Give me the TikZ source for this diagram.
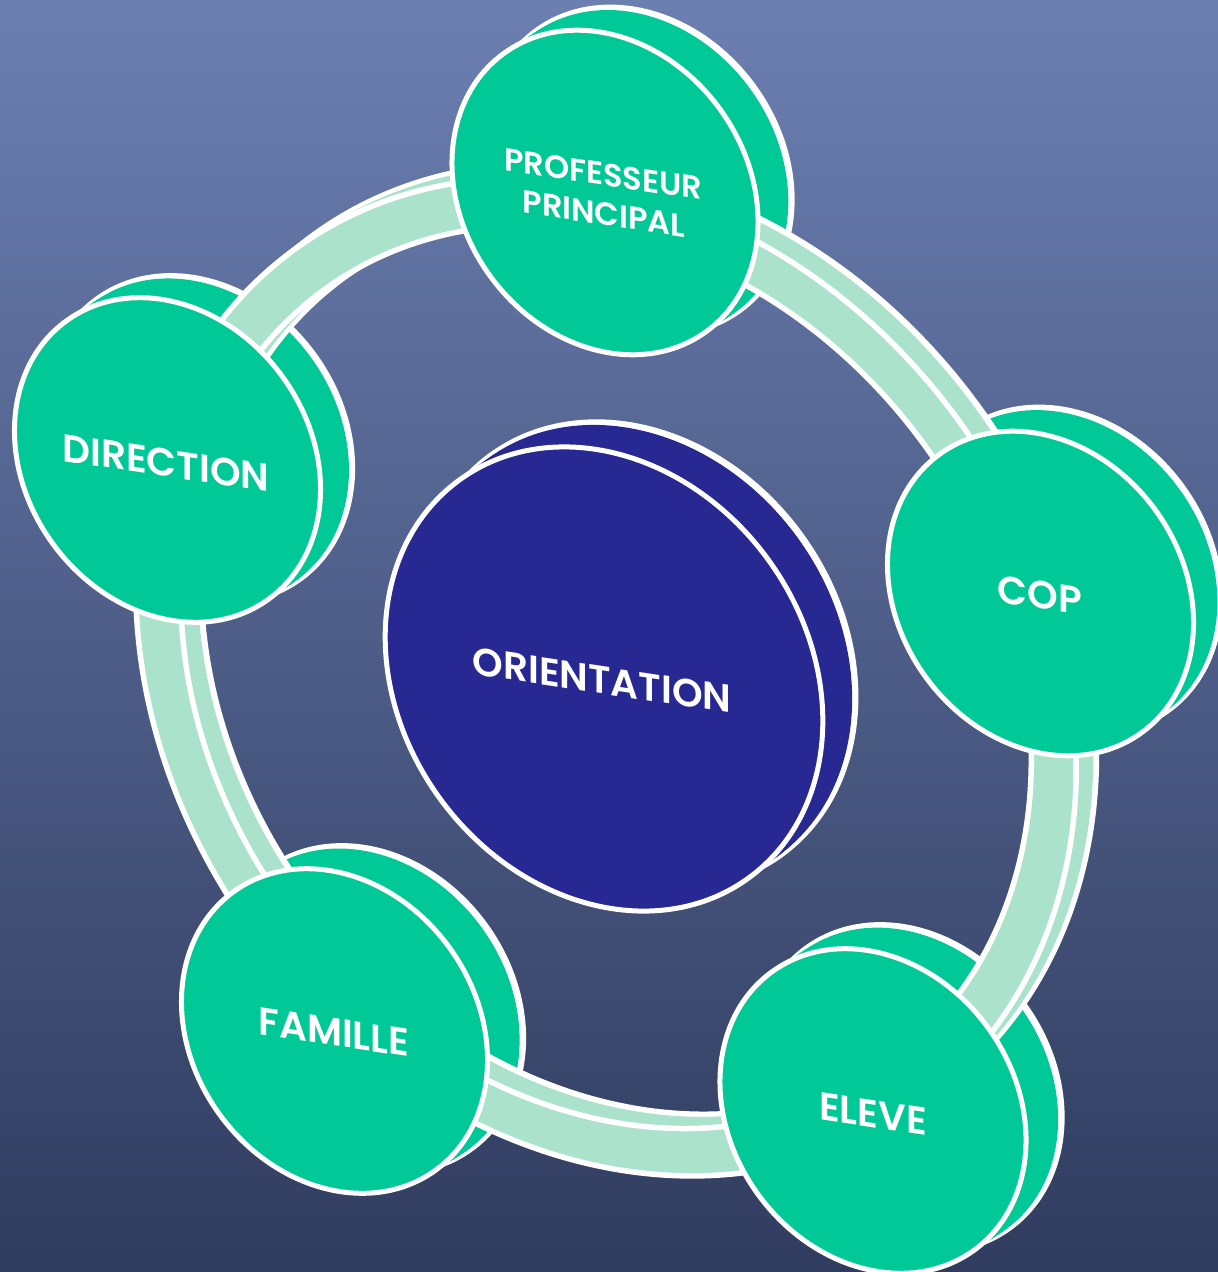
\documentclass[tikz,border=0pt]{standalone}
\usepackage{fontspec}
\newfontfamily\labelfont{Poppins SemiBold}
\definecolor{bgtop}{RGB}{108,127,177}
\definecolor{bgbot}{RGB}{48,60,95}
\definecolor{discgreen}{RGB}{0,201,151}
\definecolor{ringgreen}{RGB}{170,226,204}
\definecolor{centerblue}{RGB}{39,40,146}

% back face + side of an extruded disc: #1,#2 centre, #3,#4 radii, #5 colour, #6,#7 depth offset
\newcommand{\DiscBack}[7]{%
  \path[fill=#5, draw=white, line width=3.6pt, rotate around={-54:(#1+#6,#2+#7)}]
    (#1+#6,#2+#7) ellipse [x radius=#3, y radius=#4];
  \foreach \k in {11,...,1}{%
    \path[fill=#5, rotate around={-54:(#1+#6*\k/12,#2+#7*\k/12)}]
      (#1+#6*\k/12,#2+#7*\k/12) ellipse [x radius=#3, y radius=#4];
  }%
}
\newcommand{\DiscFront}[5]{%
  \path[fill=#5, draw=white, line width=2.5pt, rotate around={-54:(#1,#2)}]
    (#1,#2) ellipse [x radius=#3, y radius=#4];
}
\newcommand{\RingLayer}[3]{%
  \path[rotate around={-54:(606+#1,677+#2)}, even odd rule, #3]
    (606+#1,677+#2) ellipse [x radius=529, y radius=436]
    (606+#1,677+#2) ellipse [x radius=479, y radius=394];
}

\tikzset{
  lbl/.style={text=white, font=\labelfont\fontsize{19.5}{24}\selectfont,
              align=center, inner sep=0pt, transform shape},
  smalllbl/.style={lbl, font=\labelfont\fontsize{16}{18}\selectfont}
}

\begin{document}
\begin{tikzpicture}[x=0.5pt, y=-0.5pt]
\useasboundingbox (0,0) rectangle (1218,1272);
\clip (0,0) rectangle (1218,1272);
\shade[top color=bgtop, bottom color=bgbot] (0,0) rectangle (1218,1272);

% centre disc
\DiscBack{604}{679}{246}{203}{centerblue}{32}{-24}
\DiscFront{604}{679}{246}{203}{centerblue}

% backs of the outer discs
\DiscBack{605}{192.5}{172}{142}{discgreen}{33}{-22}
\DiscBack{167.5}{460}{172}{142}{discgreen}{31}{-21}
\DiscBack{1040.5}{593.5}{172}{142}{discgreen}{26}{-23}
\DiscBack{873}{1111}{172}{142}{discgreen}{35}{-23}
\DiscBack{334.5}{1031}{172}{142}{discgreen}{35}{-22}

% ring
\RingLayer{19}{-13}{fill=ringgreen, draw=white, line width=4pt}
\foreach \k in {9,...,1}{\RingLayer{19*\k/10}{-13*\k/10}{fill=ringgreen}}
\RingLayer{0}{0}{fill=ringgreen, draw=white, line width=2.75pt}

% fronts of the outer discs
\DiscFront{605}{192.5}{172}{142}{discgreen}
\DiscFront{167.5}{460}{172}{142}{discgreen}
\DiscFront{1040.5}{593.5}{172}{142}{discgreen}
\DiscFront{873}{1111}{172}{142}{discgreen}
\DiscFront{334.5}{1031}{172}{142}{discgreen}

% labels
\begin{scope}[shift={(602,680)}, yslant=-0.15]
  \node[lbl] (orient) {ORIENTATION};
\end{scope}
\begin{scope}[shift={(603,174)}, yslant=-0.15]
  \node[smalllbl] (pp1) {PROFESSEUR};
\end{scope}
\begin{scope}[shift={(604,214)}, yslant=-0.15]
  \node[smalllbl] (pp2) {PRINCIPAL};
\end{scope}
\begin{scope}[shift={(166,463)}, yslant=-0.15]
  \node[lbl] (dir) {DIRECTION};
\end{scope}
\begin{scope}[shift={(1040,595)}, yslant=-0.15]
  \node[lbl] (cop) {COP};
\end{scope}
\begin{scope}[shift={(873,1114)}, yslant=-0.15]
  \node[lbl] (eleve) {ELEVE};
\end{scope}
\begin{scope}[shift={(334,1032)}, yslant=-0.15]
  \node[lbl] (fam) {FAMILLE};
\end{scope}
\end{tikzpicture}
\end{document}
